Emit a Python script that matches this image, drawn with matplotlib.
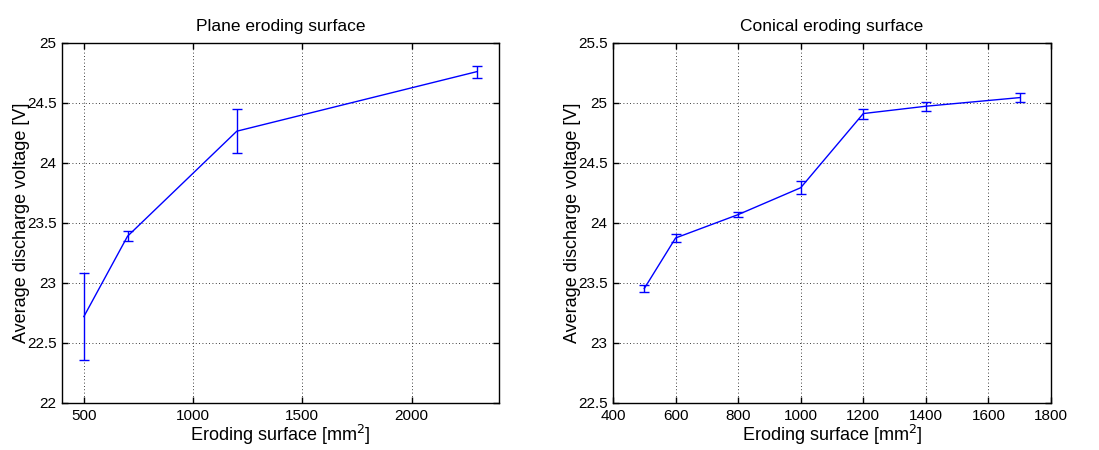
import matplotlib
matplotlib.use('Agg')
import matplotlib.pyplot as plt

plt.rcParams['font.family'] = ['Liberation Sans', 'DejaVu Sans']

# plane eroding surface
plane_area = [500, 700, 1200, 2300]
plane_volt = [22.72, 23.39, 24.265, 24.762]
plane_err = [0.362, 0.042, 0.185, 0.05]

# conical eroding surface
cone_area = [500, 600, 800, 1000, 1200, 1400, 1700]
cone_volt = [23.454, 23.875, 24.07, 24.294, 24.912, 24.973, 25.045]
cone_err = [0.028, 0.034, 0.02, 0.053, 0.042, 0.037, 0.04]

fig = plt.figure(figsize=(10.99, 4.5), dpi=100)
ax1 = fig.add_axes([62 / 1099, 47 / 450, 437 / 1099, 360 / 450])
ax2 = fig.add_axes([613 / 1099, 47 / 450, 438 / 1099, 360 / 450])


def style(ax):
    ax.tick_params(direction='in', top=True, right=True, length=4, width=1,
                   labelsize=11, pad=4)
    for s in ax.spines.values():
        s.set_linewidth(1.0)
    ax.grid(True, color='black', linestyle=(0, (1, 3)), linewidth=0.6)
    ax.set_axisbelow(True)
    ax.set_xlabel('Eroding surface [mm$^2$]', fontsize=13, labelpad=0)
    ax.set_ylabel('Average discharge voltage [V]', fontsize=13, labelpad=-2)


ax1.errorbar(plane_area, plane_volt, yerr=plane_err, color='blue',
             linewidth=1.0, elinewidth=1.0, capsize=3.5, capthick=1.0)
ax1.set_xlim(400, 2400)
ax1.set_ylim(22, 25)
ax1.set_xticks([500, 1000, 1500, 2000])
ax1.set_yticks([22, 22.5, 23, 23.5, 24, 24.5, 25])
ax1.set_yticklabels(['22', '22.5', '23', '23.5', '24', '24.5', '25'])
ax1.set_title('Plane eroding surface', fontsize=12.5, pad=9)
style(ax1)

ax2.errorbar(cone_area, cone_volt, yerr=cone_err, color='blue',
             linewidth=1.0, elinewidth=1.0, capsize=3.5, capthick=1.0)
ax2.set_xlim(400, 1800)
ax2.set_ylim(22.5, 25.5)
ax2.set_xticks(range(400, 1801, 200))
ax2.set_yticks([22.5, 23, 23.5, 24, 24.5, 25, 25.5])
ax2.set_yticklabels(['22.5', '23', '23.5', '24', '24.5', '25', '25.5'])
ax2.set_title('Conical eroding surface', fontsize=12.5, pad=9)
style(ax2)

fig.savefig('out.png', dpi=100)
